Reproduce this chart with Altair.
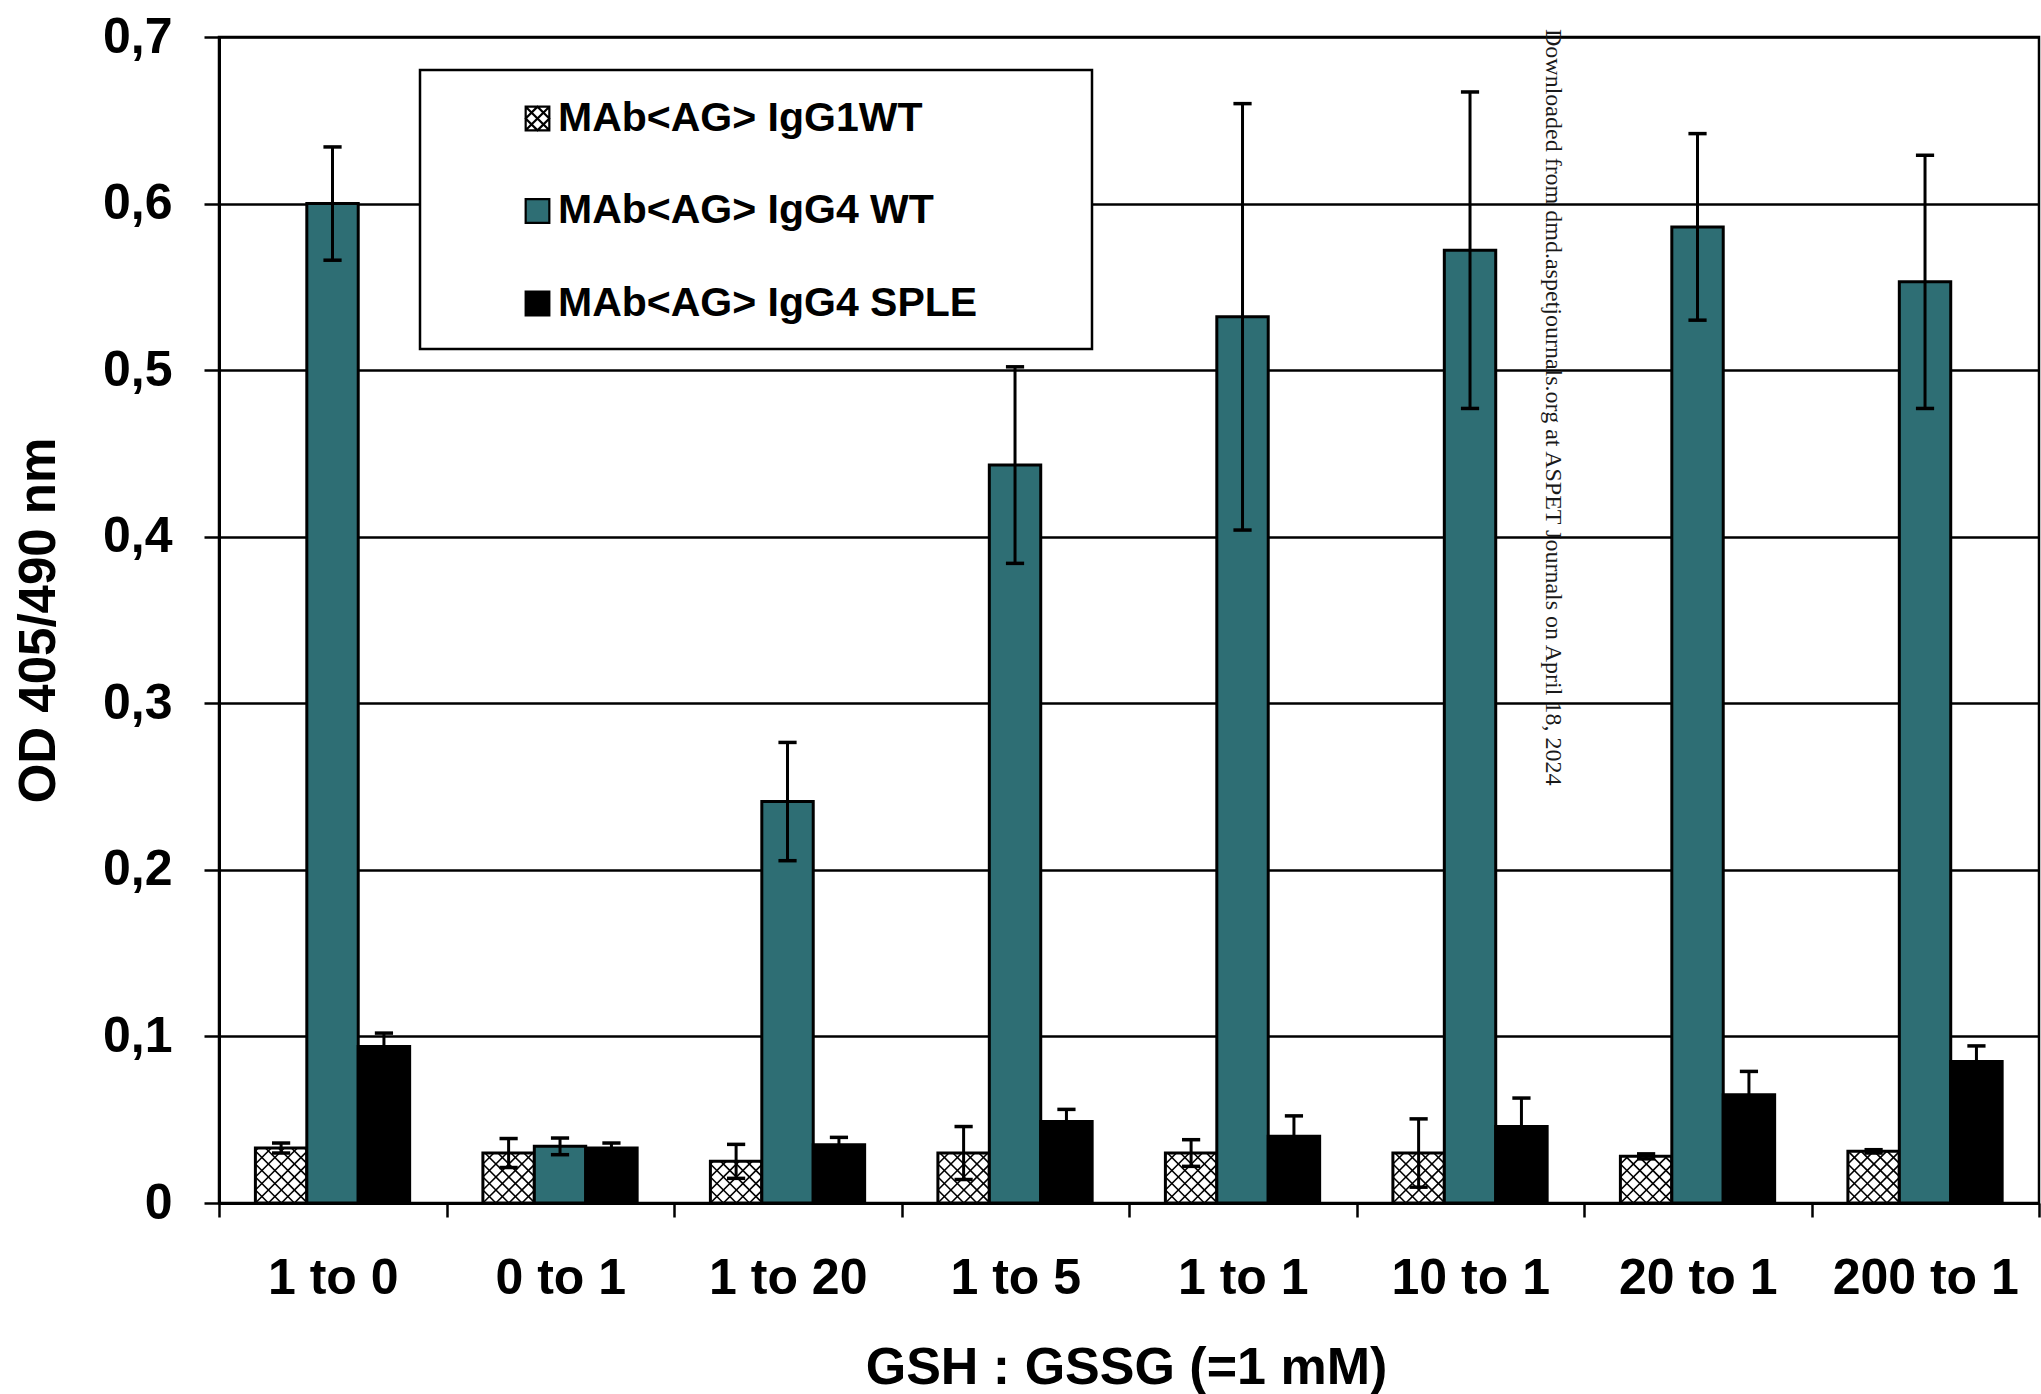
import json
import math

import altair as alt
import pandas as pd

# ---- data -----------------------------------------------------------------
categories = ["1 to 0", "0 to 1", "1 to 20", "1 to 5", "1 to 1", "10 to 1", "20 to 1", "200 to 1"]
series = ["MAb<AG> IgG1WT", "MAb<AG> IgG4 WT", "MAb<AG> IgG4 SPLE"]

igg1_wt = [0.033, 0.030, 0.025, 0.030, 0.030, 0.030, 0.028, 0.031]
igg1_wt_err = [0.003, 0.0087, 0.0102, 0.0159, 0.008, 0.0205, 0.0015, 0.001]
igg4_wt = [0.600, 0.034, 0.241, 0.443, 0.532, 0.572, 0.586, 0.553]
igg4_wt_err = [0.034, 0.005, 0.0355, 0.059, 0.128, 0.095, 0.056, 0.076]
igg4_sple = [0.094, 0.033, 0.035, 0.049, 0.040, 0.046, 0.065, 0.085]
igg4_sple_err = [0.008, 0.003, 0.0044, 0.0072, 0.0123, 0.017, 0.014, 0.0093]

values = [igg1_wt, igg4_wt, igg4_sple]
errors = [igg1_wt_err, igg4_wt_err, igg4_sple_err]

# ---- layout ---------------------------------------------------------------
W, H = 1820, 1166
Y_MAX = 0.7
N = len(categories)
GAP = 0.16        # share of a category left empty before the first bar
BAR_W = 0.226     # share of a category taken by one bar
CAP_HALF = 0.04   # half width of an error-bar cap, in category units
HATCH_STEP = 13.0  # spacing of the cross-hatch lines, px

PX_X = W / N
PX_Y = H / Y_MAX

TEAL = "#2e6e74"
FONT = "Liberation Sans"

rows = []
for i, cat in enumerate(categories):
    for s, name in enumerate(series):
        v = values[s][i]
        e = errors[s][i]
        x0 = i + GAP + s * BAR_W
        x1 = x0 + BAR_W
        xc = (x0 + x1) / 2
        rows.append(dict(category=cat, series=name, v=v, e=e, x0=x0, x1=x1, xc=xc,
                         lo=v - e, hi=v + e, cap0=xc - CAP_HALF, cap1=xc + CAP_HALF))
bars = pd.DataFrame(rows)

caps = pd.concat([bars.assign(cy=bars["hi"]), bars.assign(cy=bars["lo"])], ignore_index=True)

# cross-hatch segments for the IgG1WT bars, clipped to each bar
hatch_rows = []
for r in rows:
    if r["series"] != series[0]:
        continue
    w = BAR_W * PX_X
    h = r["v"] * PX_Y
    # rising lines: t = u - d
    for k in range(math.ceil(-h / HATCH_STEP), math.floor(w / HATCH_STEP) + 1):
        d = k * HATCH_STEP
        u0, u1 = max(0.0, d), min(w, h + d)
        if u1 - u0 > 0.5:
            hatch_rows.append(dict(hx=r["x0"] + u0 / PX_X, hy=(u0 - d) / PX_Y,
                                   hx2=r["x0"] + u1 / PX_X, hy2=(u1 - d) / PX_Y))
    # falling lines: t = e - u
    for k in range(1, math.floor((w + h) / HATCH_STEP) + 1):
        e = k * HATCH_STEP
        u0, u1 = max(0.0, e - h), min(w, e)
        if u1 - u0 > 0.5:
            hatch_rows.append(dict(hx=r["x0"] + u0 / PX_X, hy=(e - u0) / PX_Y,
                                   hx2=r["x0"] + u1 / PX_X, hy2=(e - u1) / PX_Y))
hatch = pd.DataFrame(hatch_rows)

# ---- scales and axes ------------------------------------------------------
x_scale = alt.Scale(domain=[0, N], nice=False, zero=False)
y_scale = alt.Scale(domain=[0, Y_MAX], nice=False, zero=True)

label_expr = "(" + json.dumps(categories) + ")[datum.value] || ''"

x_axis = alt.Axis(
    values=list(range(N + 1)), labelExpr=label_expr, labelOffset=W / N / 2,
    labelFlush=False, labelOverlap=False, labelBound=False, labelLimit=0,
    tickSize=14, tickWidth=2.5, tickColor="black",
    domainColor="black", domainWidth=3, grid=False,
    labelFont=FONT, labelFontSize=50, labelFontWeight="bold", labelColor="black",
    labelPadding=36,
    title="GSH : GSSG (=1 mM)", titleFont=FONT, titleFontSize=52, titleFontWeight="bold",
    titleColor="black", titleX=907, titleY=164, titleBaseline="middle", titleLimit=0,
)
y_axis = alt.Axis(
    values=[0, 0.1, 0.2, 0.3, 0.4, 0.5, 0.6, 0.7],
    labelExpr="datum.value == 0 ? '0' : replace(format(datum.value, '.1f'), '.', ',')",
    tickSize=15, tickWidth=2.5, tickColor="black",
    domainColor="black", domainWidth=3,
    grid=True, gridColor="black", gridWidth=2.5,
    labelFont=FONT, labelFontSize=50, labelFontWeight="bold", labelColor="black",
    labelPadding=32,
    title="OD 405/490 nm", titleFont=FONT, titleFontSize=51, titleFontWeight="bold",
    titleColor="black", titleX=-180, titleY=H / 2, titleAngle=270, titleBaseline="middle",
    titleLimit=0,
)


def X(field):
    return alt.X(field, type="quantitative", scale=x_scale, axis=x_axis)


def Y(field):
    return alt.Y(field, type="quantitative", scale=y_scale, axis=y_axis)


fill_scale = alt.Scale(domain=series, range=["white", TEAL, "black"])
stroke_scale = alt.Scale(domain=series, range=["black", "black", "black"])
shape_scale = alt.Scale(domain=series, range=[
    "M-1,-1H1V1H-1Z M-1,-1L1,1 M1,-1L-1,1 M0,-1L1,0L0,1L-1,0Z",
    "M-1,-1H1V1H-1Z",
    "M-1,-1H1V1H-1Z",
])
legend = alt.Legend(
    orient="none", legendX=298, legendY=61, title=None, padding=0, zindex=2,
    symbolSize=560, symbolStrokeColor="black", symbolStrokeWidth=2.2, symbolOpacity=1,
    labelFont=FONT, labelFontSize=41, labelFontWeight="bold", labelColor="black",
    labelOffset=0, labelLimit=0, rowPadding=50.5,
)

# ---- layers ---------------------------------------------------------------
# empty point layer: carries shape and stroke so the legend gets outlined, hatched-box symbols
legend_layer = alt.Chart(bars).transform_filter("false").mark_point(
    filled=True, opacity=1, strokeWidth=2.2
).encode(
    x=X("xc"), y=Y("v"),
    fill=alt.Fill("series:N", scale=fill_scale, legend=legend),
    stroke=alt.Stroke("series:N", scale=stroke_scale, legend=legend),
    shape=alt.Shape("series:N", scale=shape_scale, legend=legend),
)

bar_layer = alt.Chart(bars).mark_rect(stroke="black", strokeWidth=3).encode(
    x=X("x0"), x2="x1", y=Y("v"), y2=alt.datum(0),
    fill=alt.Fill("series:N", scale=fill_scale, legend=legend),
)

hatch_layer = alt.Chart(hatch).mark_rule(color="black", strokeWidth=1.6).encode(
    x=X("hx"), x2="hx2", y=Y("hy"), y2="hy2",
)

err_layer = alt.Chart(bars).mark_rule(color="black", strokeWidth=3).encode(
    x=X("xc"), y=Y("lo"), y2="hi",
)

cap_layer = alt.Chart(caps).mark_rule(color="black", strokeWidth=3.5).encode(
    x=X("cap0"), x2="cap1", y=Y("cy"),
)

frame_layer = alt.Chart(alt.Data(values=[{}])).mark_rect(
    fill="white", stroke="black", strokeWidth=2.5
).encode(x=alt.value(201), x2=alt.value(873), y=alt.value(33), y2=alt.value(312))

watermark = alt.Chart(
    alt.Data(values=[{"t": "Downloaded from dmd.aspetjournals.org at ASPET Journals on April 18, 2024"}])
).mark_text(
    angle=90, align="left", baseline="middle", font="Liberation Serif", fontSize=24, color="#1a1a1a"
).encode(x=alt.value(1334), y=alt.value(-8), text="t:N")

chart = alt.layer(
    legend_layer, bar_layer, hatch_layer, err_layer, cap_layer, frame_layer, watermark
).properties(
    width=W, height=H,
    autosize=alt.AutoSizeParams(type="none"),
    padding={"left": 219, "top": 37, "right": 2, "bottom": 191},
    background="white",
).configure_view(
    stroke="black", strokeWidth=2.5
)

chart.save("out.html", embed_options={"renderer": "svg", "actions": False})
